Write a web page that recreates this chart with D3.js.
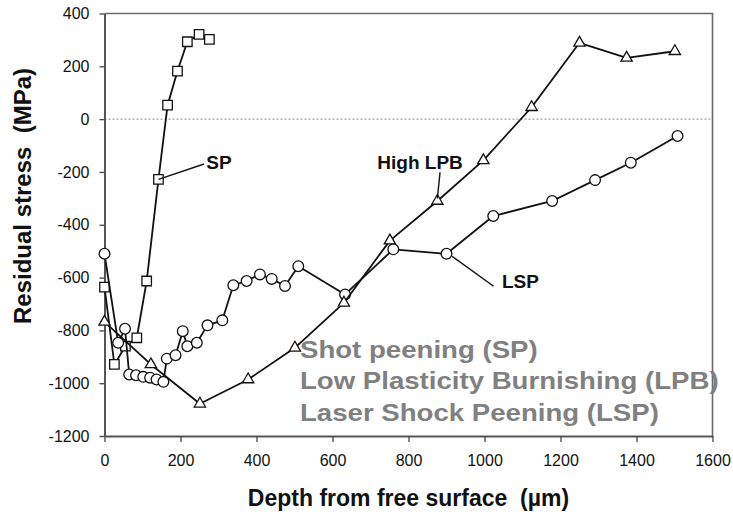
<!DOCTYPE html>
<html><head><meta charset="utf-8">
<script src="https://cdn.jsdelivr.net/npm/d3@7"></script>
<style>body{margin:0;background:#fff} svg{display:block}</style>
</head><body>
<svg id="c" width="733" height="515"></svg>
<script>
// Shot peening (SP) - squares
const spDepth  = [0, 26, 55, 85, 111, 142, 166, 192, 218, 249, 276];
const spStress = [-636, -929, -860, -828, -613, -228, 53, 182, 293, 321, 302];
// High LPB - triangles
const lpbDepth  = [0, 122, 251, 378, 501, 630, 751, 876, 997, 1124, 1250, 1374, 1501];
const lpbStress = [-768, -929, -1078, -986, -866, -696, -460, -310, -156, 45, 289, 232, 257];
// LSP - circles
const lspDepth  = [0, 36, 54, 65, 83, 102, 120, 137, 155, 164, 187, 206, 218, 243, 271, 310, 339, 374, 409, 440, 475, 510, 633, 760, 900, 1023, 1178, 1291, 1385, 1508];
const lspStress = [-510, -847, -794, -967, -970, -976, -979, -986, -995, -907, -894, -803, -860, -847, -781, -762, -629, -613, -588, -605, -632, -557, -664, -493, -510, -367, -310, -231, -165, -64];

const xTicks = [0, 200, 400, 600, 800, 1000, 1200, 1400, 1600];
const yTicks = [400, 200, 0, -200, -400, -600, -800, -1000, -1200];
const legendLines = ["Shot peening (SP)", "Low Plasticity Burnishing (LPB)", "Laser Shock Peening (LSP)"];
const seriesLabels = ["SP", "High LPB", "LSP"];

const FONT = "'Liberation Sans', Arial, Helvetica, sans-serif";
const svg = d3.select("#c");
const x = d3.scaleLinear().domain([0, 1600]).range([104.5, 712.5]);
const y = d3.scaleLinear().domain([-1200, 400]).range([436, 13.5]);

// frame (top & right)
svg.append("path")
  .attr("d", `M${x(0)},${y(400)}H${x(1600)}V${y(-1200)}`)
  .attr("fill", "none").attr("stroke", "#6a6a6a").attr("stroke-width", 1.6);

// zero dotted line
svg.append("line")
  .attr("x1", x(0)).attr("x2", x(1600)).attr("y1", y(0)).attr("y2", y(0))
  .attr("stroke", "#8a8a8a").attr("stroke-width", 1).attr("stroke-dasharray", "2,2");

// axes
const gx = svg.append("g").attr("transform", `translate(0,${y(-1200)})`)
  .call(d3.axisBottom(x).tickValues(xTicks).tickSize(6).tickSizeOuter(0).tickPadding(13).tickFormat(d3.format("d")));
const gy = svg.append("g").attr("transform", `translate(${x(0)},0)`)
  .call(d3.axisLeft(y).tickValues(yTicks).tickSize(5).tickSizeOuter(0).tickPadding(10).tickFormat(d => d < 0 ? "-" + Math.abs(d) : String(d)));
[gx, gy].forEach(g => {
  g.select(".domain").attr("stroke", "#555").attr("stroke-width", 2);
  g.selectAll(".tick line").attr("stroke", "#444").attr("stroke-width", 1.3);
  g.selectAll(".tick text").attr("fill", "#111").style("font-family", FONT).style("font-size", "16px");
});

// series
const line = d3.line().x(d => x(d[0])).y(d => y(d[1]));
function series(dep, str, sym, size) {
  const pts = dep.map((d, i) => [d, str[i]]);
  svg.append("path").datum(pts).attr("d", line)
    .attr("fill", "none").attr("stroke", "#111").attr("stroke-width", 1.8).attr("stroke-linejoin", "round");
  svg.append("g").selectAll("path").data(pts).join("path")
    .attr("transform", d => `translate(${x(d[0])},${y(d[1])})`)
    .attr("d", d3.symbol().type(sym).size(size)())
    .attr("fill", "#fff").attr("stroke", "#111").attr("stroke-width", 1.3);
}
series(spDepth, spStress, d3.symbolSquare, 90);
series(lspDepth, lspStress, d3.symbolCircle, 90);
series(lpbDepth, lpbStress, d3.symbolTriangle, 55);

// leader lines
const leaders = [[142, -228, 262, -170], [876, -300, 883, -201], [915, -520, 1024, -633]];
svg.append("g").selectAll("line").data(leaders).join("line")
  .attr("x1", d => x(d[0])).attr("y1", d => y(d[1])).attr("x2", d => x(d[2])).attr("y2", d => y(d[3]))
  .attr("stroke", "#111").attr("stroke-width", 1.4);

// series labels
const labelPos = [[268, -189], [718, -189], [1046, -640]];
svg.append("g").selectAll("text").data(seriesLabels).join("text")
  .attr("x", (d, i) => x(labelPos[i][0])).attr("y", (d, i) => y(labelPos[i][1]))
  .text(d => d).attr("fill", "#111").style("font-family", FONT).style("font-weight", "bold").style("font-size", "19px");

// gray legend text (slightly wide, as in the reference)
svg.append("g").attr("transform", "translate(300,0) scale(1.15,1)").selectAll("text").data(legendLines).join("text")
  .attr("x", 0).attr("y", (d, i) => 358 + i * 31.5)
  .text(d => d).attr("fill", "#808080").style("font-family", FONT).style("font-weight", "bold").style("font-size", "24px");

// axis titles
svg.append("text").attr("x", (x(0) + x(1600)) / 2).attr("y", 506).attr("text-anchor", "middle")
  .style("white-space", "pre").attr("xml:space", "preserve")
  .text("Depth from free surface  (\u00b5m)").attr("fill", "#111")
  .style("font-family", FONT).style("font-weight", "bold").style("font-size", "23px");
svg.append("text").attr("transform", "translate(31,196) rotate(-90)").attr("text-anchor", "middle")
  .style("white-space", "pre").attr("xml:space", "preserve")
  .text("Residual stress  (MPa)").attr("fill", "#111")
  .style("font-family", FONT).style("font-weight", "bold").style("font-size", "24px");
</script>
</body></html>
